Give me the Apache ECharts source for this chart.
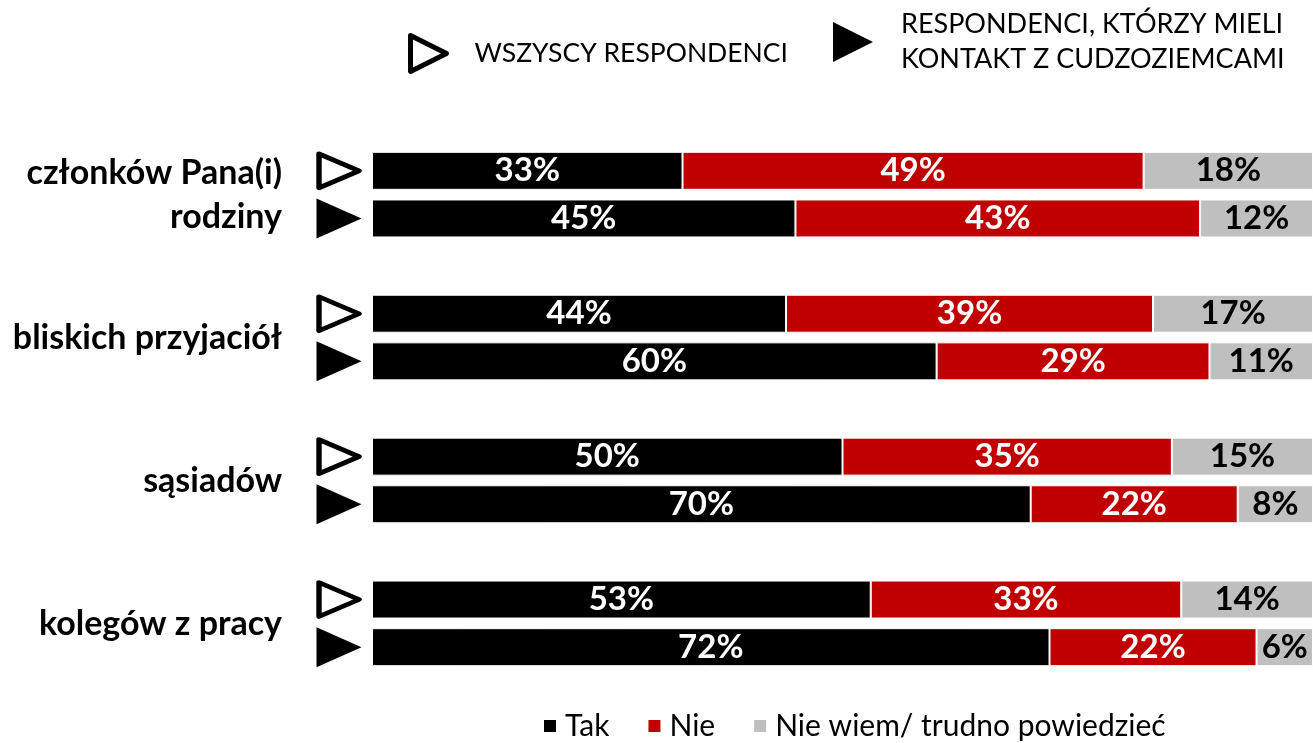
<!DOCTYPE html>
<html>
<head>
<meta charset="utf-8">
<script src="https://cdn.jsdelivr.net/npm/echarts@6/dist/echarts.min.js"></script>
<style>
  html, body { margin: 0; padding: 0; background: #fff; }
  #chart { width: 1313px; height: 743px; }
</style>
</head>
<body>
<div id="chart"></div>
<script>
// grupy (etykiety po lewej)
var groups = ['członków Pana(i)\nrodziny', 'bliskich przyjaciół', 'sąsiadów', 'kolegów z pracy'];

// dwa paski na grupę: wszyscy / z kontaktem
var tak = [33, 45, 44, 60, 50, 70, 53, 72];
var nie = [49, 43, 39, 29, 35, 22, 33, 22];
var nieWiem = [18, 12, 17, 11, 15, 8, 14, 6];

var seriesNames = ['Tak', 'Nie', 'Nie wiem/ trudno powiedzieć'];
var respNames = ['WSZYSCY RESPONDENCI', 'RESPONDENCI, KTÓRZY MIELI\nKONTAKT Z CUDZOZIEMCAMI'];

var FONT = 'Lato';
var triPath = 'path://M0,0L10,5L0,10Z';

// sloty osi: a, b, przerwa, a, b, przerwa ...
var slots = [];
function withGaps(arr) {
    var out = [];
    for (var i = 0; i < arr.length; i++) {
        out.push(arr[i]);
        if (i % 2 === 1 && i < arr.length - 1) out.push('-');
    }
    return out;
}
for (var s = 0; s < 11; s++) slots.push('s' + s);

// trójkąty: pierwszy pasek w grupie - kontur, drugi - pełny
var triAll = [], triContact = [];
for (var k = 0; k < 11; k++) {
    var pos = k % 3;
    triAll.push(pos === 0 ? 0.5 : '-');
    triContact.push(pos === 1 ? 0.5 : '-');
}

var myChart = echarts.init(document.getElementById('chart'));

function barSeries(name, values, color, labelColor) {
    return {
        name: name,
        type: 'bar',
        stack: 'total',
        xAxisIndex: 0,
        yAxisIndex: 0,
        barWidth: 38,
        data: withGaps(values),
        itemStyle: { color: color, borderColor: '#fff', borderWidth: 1 },
        label: {
            show: true,
            position: 'inside',
            formatter: '{c}%',
            color: labelColor,
            fontFamily: FONT,
            fontWeight: 'bold',
            fontSize: 33
        }
    };
}

var option = {
    animation: false,
    backgroundColor: '#fff',
    grid: [
        { left: 372, right: 0, top: 147, bottom: 72 },
        { left: 290, width: 10, top: 123.5, bottom: 47.5 },
        { left: 315, width: 48, top: 147, bottom: 72 }
    ],
    legend: [{
        data: [respNames[0]],
        left: 403, top: 28,
        icon: triPath,
        itemWidth: 38, itemHeight: 36,
        itemStyle: { color: '#fff', borderColor: '#000', borderWidth: 5, borderJoin: 'round' },
        textStyle: { fontFamily: FONT, fontSize: 26.5, color: '#000', padding: [0, 0, 0, 22] }
    }, {
        data: [respNames[1]],
        left: 828, top: 2,
        icon: triPath,
        itemWidth: 42, itemHeight: 40,
        itemStyle: { color: '#000', opacity: 1 },
        textStyle: { fontFamily: FONT, fontSize: 27, color: '#000', lineHeight: 35, padding: [0, 0, 0, 22] }
    }, {
        data: seriesNames,
        left: 537, top: 706,
        icon: 'rect',
        itemWidth: 14, itemHeight: 14,
        itemGap: 37,
        textStyle: { fontFamily: FONT, fontSize: 30, color: '#000', padding: [0, 0, 0, 3] }
    }],
    xAxis: [
        { gridIndex: 0, type: 'value', min: 0, max: 100, show: false },
        { gridIndex: 1, type: 'value', show: false },
        { gridIndex: 2, type: 'value', min: 0, max: 1, show: false }
    ],
    yAxis: [
        { gridIndex: 0, type: 'category', inverse: true, data: slots, show: false },
        {
            gridIndex: 1, type: 'category', inverse: true, data: groups,
            axisLine: { show: false }, axisTick: { show: false },
            axisLabel: {
                margin: 8,
                fontFamily: FONT, fontWeight: 'bold', fontSize: 34,
                color: '#000', lineHeight: 44, align: 'right'
            }
        },
        { gridIndex: 2, type: 'category', inverse: true, data: slots, show: false }
    ],
    series: [
        barSeries(seriesNames[0], tak, '#000000', '#fff'),
        barSeries(seriesNames[1], nie, '#C00000', '#fff'),
        barSeries(seriesNames[2], nieWiem, '#BFBFBF', '#000'),
        {
            name: respNames[0],
            type: 'scatter',
            xAxisIndex: 2, yAxisIndex: 2,
            symbol: triPath,
            symbolSize: [40, 34],
            data: triAll,
            itemStyle: { color: '#fff', opacity: 1, borderColor: '#000', borderWidth: 5, borderJoin: 'round' }
        },
        {
            name: respNames[1],
            type: 'scatter',
            xAxisIndex: 2, yAxisIndex: 2,
            symbol: triPath,
            symbolSize: [45, 40],
            data: triContact,
            itemStyle: { color: '#000', opacity: 1 }
        }
    ]
};

myChart.setOption(option);
</script>
</body>
</html>
